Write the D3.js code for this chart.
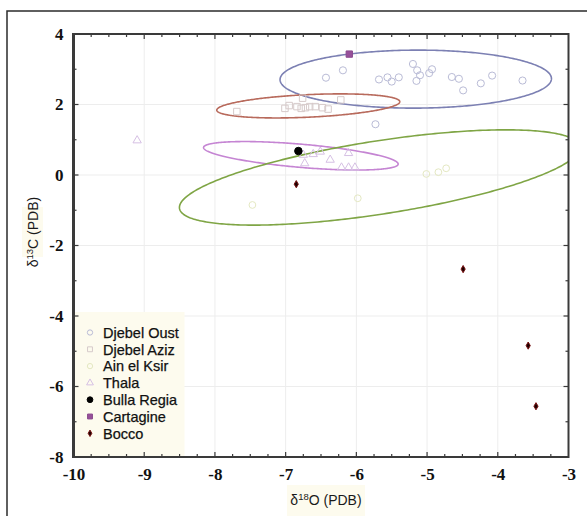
<!DOCTYPE html>
<html>
<head>
<meta charset="utf-8">
<script src="https://cdn.jsdelivr.net/npm/d3@7"></script>
<style>
  html, body { margin: 0; padding: 0; background: #fff; }
  svg { display: block; }
</style>
</head>
<body>
<div id="chart"></div>
<script>
// Stable isotope scatter: δ18O vs δ13C (PDB) by site, with group ellipses

const groups = ["Djebel Oust", "Djebel Aziz", "Ain el Ksir", "Thala", "Bulla Regia", "Cartagine", "Bocco"];

const djebelOustX = [-6.19, -6.43, -5.68, -5.56, -5.50, -5.40, -5.20, -5.14, -5.10, -5.15, -4.97, -4.93, -4.65, -4.55, -4.49, -4.24, -4.08, -3.65, -5.73];
const djebelOustY = [2.97, 2.76, 2.71, 2.77, 2.65, 2.77, 3.15, 2.97, 2.83, 2.67, 2.89, 3.00, 2.78, 2.73, 2.40, 2.60, 2.82, 2.68, 1.44];

const djebelAzizX = [-7.69, -7.01, -6.95, -6.84, -6.78, -6.72, -6.66, -6.58, -6.48, -6.40, -6.22, -6.76];
const djebelAzizY = [1.80, 1.89, 1.97, 1.94, 1.89, 1.91, 1.94, 1.94, 1.91, 1.87, 2.13, 2.18];

const ainElKsirX = [-7.47, -5.98, -5.01, -4.84, -4.73];
const ainElKsirY = [-0.85, -0.66, 0.03, 0.08, 0.19];

const thalaX = [-9.10, -6.75, -6.61, -6.51, -6.37, -6.73, -6.21, -6.11, -6.02, -6.11];
const thalaY = [0.98, 0.57, 0.59, 0.66, 0.43, 0.33, 0.21, 0.21, 0.21, 0.62];

const bullaRegiaX = [-6.82];
const bullaRegiaY = [0.68];

const cartagineX = [-6.10];
const cartagineY = [3.43];

const boccoX = [-6.85, -4.49, -3.57, -3.46];
const boccoY = [-0.26, -2.67, -4.84, -6.56];

// Ellipses: centre, and two conjugate semi-axis vectors (data units)
const ellipseGroups = ["Djebel Oust", "Djebel Aziz", "Thala", "Ain el Ksir"];
const ellipseCx = [-5.16, -6.68, -6.785, -5.67];
const ellipseCy = [2.72, 1.96, 0.545, -0.07];
const ellipseUx = [1.919, 1.294, 1.376, 2.832];
const ellipseUy = [0.014, 0.119, -0.233, 0.851];
const ellipseVx = [0, 0, 0, 0];
const ellipseVy = [0.823, 0.32, 0.33, 1.05];

const xTicks = [-10, -9, -8, -7, -6, -5, -4, -3];
const yTicks = [-8, -6, -4, -2, 0, 2, 4];

const W = 587, H = 516;
const plot = { left: 73.5, right: 568.5, top: 34, bottom: 457 };

const x = d3.scaleLinear().domain([-10, -3]).range([plot.left, plot.right]);
const y = d3.scaleLinear().domain([-8, 4]).range([plot.bottom, plot.top]);

const style = {
  "Djebel Oust": { shape: d3.symbolCircle, size: 40, fill: "none", stroke: "#b9bbd6", legendSize: 22 },
  "Djebel Aziz": { shape: d3.symbolSquare, size: 42, fill: "none", stroke: "#d6caca", legendSize: 24 },
  "Ain el Ksir": { shape: d3.symbolCircle, size: 36, fill: "none", stroke: "#e4e8c2", legendSize: 22 },
  "Thala":       { shape: d3.symbolTriangle, size: 30, fill: "none", stroke: "#d6c0e4", legendSize: 20 },
  "Bulla Regia": { shape: d3.symbolCircle, size: 44, fill: "#000", stroke: "#000", legendSize: 26 },
  "Cartagine":   { shape: d3.symbolSquare, size: 40, fill: "#97509a", stroke: "#8a4a8e", legendSize: 24 },
  "Bocco":       { shape: d3.symbolDiamond, size: 15, fill: "#1e0000", stroke: "#7a1414", legendSize: 12 }
};
const ellipseColor = {
  "Djebel Oust": "#7c80b3",
  "Djebel Aziz": "#b86a5c",
  "Thala": "#c585d3",
  "Ain el Ksir": "#7fa545"
};

const series = {
  "Djebel Oust": [djebelOustX, djebelOustY],
  "Djebel Aziz": [djebelAzizX, djebelAzizY],
  "Ain el Ksir": [ainElKsirX, ainElKsirY],
  "Thala": [thalaX, thalaY],
  "Bulla Regia": [bullaRegiaX, bullaRegiaY],
  "Cartagine": [cartagineX, cartagineY],
  "Bocco": [boccoX, boccoY]
};

const svg = d3.select("#chart").append("svg")
  .attr("width", W).attr("height", H);

// outer frame
svg.append("rect")
  .attr("x", 7).attr("y", 11).attr("width", 600).attr("height", 520)
  .attr("fill", "#fff").attr("stroke", "#2b2b2b").attr("stroke-width", 1.5);

svg.append("defs").append("clipPath").attr("id", "plotClip")
  .append("rect")
  .attr("x", plot.left).attr("y", plot.top)
  .attr("width", plot.right - plot.left).attr("height", plot.bottom - plot.top);

// grid
const grid = svg.append("g");
grid.selectAll("line.gx").data(xTicks.slice(1, -1)).join("line")
  .attr("x1", d => x(d)).attr("x2", d => x(d))
  .attr("y1", plot.top).attr("y2", plot.bottom)
  .attr("stroke", "#ededed").attr("stroke-width", 1);
grid.selectAll("line.gy").data(yTicks.slice(1, -1)).join("line")
  .attr("x1", plot.left).attr("x2", plot.right)
  .attr("y1", d => y(d)).attr("y2", d => y(d))
  .attr("stroke", "#ededed").attr("stroke-width", 1);

// legend background
const legend = svg.append("g");
legend.append("rect")
  .attr("x", plot.left).attr("y", 312).attr("width", 111).attr("height", plot.bottom - 312)
  .attr("fill", "#fdfbee");

// ellipses
const ellipseLine = d3.line().curve(d3.curveLinearClosed);
const ts = d3.range(0, 2 * Math.PI, Math.PI / 180);
const eg = svg.append("g").attr("clip-path", "url(#plotClip)");
ellipseGroups.forEach((g, i) => {
  const pts = ts.map(t => [
    x(ellipseCx[i] + ellipseUx[i] * Math.cos(t) + ellipseVx[i] * Math.sin(t)),
    y(ellipseCy[i] + ellipseUy[i] * Math.cos(t) + ellipseVy[i] * Math.sin(t))
  ]);
  eg.append("path").attr("d", ellipseLine(pts))
    .attr("fill", "none").attr("stroke", ellipseColor[g]).attr("stroke-width", 1.6);
});

// points
const pg = svg.append("g").attr("clip-path", "url(#plotClip)");
groups.forEach(g => {
  const [xs, ys] = series[g];
  const s = style[g];
  const sym = d3.symbol().type(s.shape).size(s.size);
  pg.selectAll(null).data(xs.map((v, i) => [v, ys[i]])).join("path")
    .attr("d", sym)
    .attr("transform", d => `translate(${x(d[0])},${y(d[1])})`)
    .attr("fill", s.fill).attr("stroke", s.stroke).attr("stroke-width", 1);
});

// legend entries
groups.forEach((g, i) => {
  const s = style[g];
  const cy = 332.5 + i * 16.8;
  legend.append("path")
    .attr("d", d3.symbol().type(s.shape).size(s.legendSize))
    .attr("transform", `translate(90,${cy})`)
    .attr("fill", s.fill).attr("stroke", s.stroke).attr("stroke-width", 1);
  legend.append("text")
    .attr("x", 103).attr("y", cy).attr("dy", "0.36em")
    .attr("font-family", "Liberation Sans, Arial, sans-serif")
    .attr("font-size", 14.5).attr("fill", "#111")
    .attr("stroke", "#111").attr("stroke-width", 0.25)
    .text(g);
});

// axis frame with inward ticks
const frame = svg.append("g");
const minorX = d3.range(-10, -3.001, 0.25);
const minorY = d3.range(-8, 4.001, 1);
const tickColor = "#3a3a3a";
// top and bottom
[plot.top, plot.bottom].forEach((yy, k) => {
  const dir = k === 0 ? 1 : -1;
  frame.selectAll(null).data(minorX).join("line")
    .attr("x1", d => x(d)).attr("x2", d => x(d))
    .attr("y1", yy).attr("y2", d => yy + dir * (Number.isInteger(d) ? 5 : 3))
    .attr("stroke", tickColor).attr("stroke-width", 1.2);
});
// left and right
[plot.left, plot.right].forEach((xx, k) => {
  const dir = k === 0 ? 1 : -1;
  frame.selectAll(null).data(minorY).join("line")
    .attr("y1", d => y(d)).attr("y2", d => y(d))
    .attr("x1", xx).attr("x2", d => xx + dir * (d % 2 === 0 ? 5 : 3))
    .attr("stroke", tickColor).attr("stroke-width", 1.2);
});
frame.append("rect")
  .attr("x", plot.left).attr("y", plot.top)
  .attr("width", plot.right - plot.left).attr("height", plot.bottom - plot.top)
  .attr("fill", "none").attr("stroke", "#3a3a3a").attr("stroke-width", 2);
frame.append("line")
  .attr("x1", plot.left).attr("x2", plot.left)
  .attr("y1", plot.top - 1).attr("y2", plot.bottom + 1)
  .attr("stroke", "#3a3a3a").attr("stroke-width", 3);

// tick labels through d3 axes
const fmt = d => String(d);
const xAxis = d3.axisBottom(x).tickValues(xTicks).tickSize(0).tickPadding(11).tickFormat(fmt);
const yAxis = d3.axisLeft(y).tickValues(yTicks).tickSize(0).tickPadding(10).tickFormat(fmt);
const gx = svg.append("g").attr("transform", `translate(0,${plot.bottom})`).call(xAxis);
const gy = svg.append("g").attr("transform", `translate(${plot.left},0)`).call(yAxis);
[gx, gy].forEach(g => {
  g.select(".domain").remove();
  g.selectAll("text")
    .attr("font-family", "Liberation Serif, Times New Roman, serif")
    .attr("font-weight", "bold").attr("font-size", 17).attr("fill", "#111");
});

// axis titles on cream backing
svg.append("rect").attr("x", 287).attr("y", 485).attr("width", 78).attr("height", 31).attr("fill", "#fdfbee");
const xt = svg.append("text").attr("x", 326).attr("y", 505)
  .attr("text-anchor", "middle")
  .attr("font-family", "Liberation Sans, Arial, sans-serif").attr("font-size", 14).attr("fill", "#1a1a1a");
xt.append("tspan").text("δ");
xt.append("tspan").attr("dy", -5).attr("font-size", 9.5).text("18");
xt.append("tspan").attr("dy", 5).text("O (PDB)");

svg.append("rect").attr("x", 22).attr("y", 207).attr("width", 21).attr("height", 50).attr("fill", "#fdfbee");
const yt = svg.append("text")
  .attr("transform", "translate(38,232) rotate(-90)")
  .attr("text-anchor", "middle")
  .attr("font-family", "Liberation Sans, Arial, sans-serif").attr("font-size", 14).attr("fill", "#1a1a1a");
yt.append("tspan").text("δ");
yt.append("tspan").attr("dy", -5).attr("font-size", 9.5).text("13");
yt.append("tspan").attr("dy", 5).text("C (PDB)");
</script>
</body>
</html>
